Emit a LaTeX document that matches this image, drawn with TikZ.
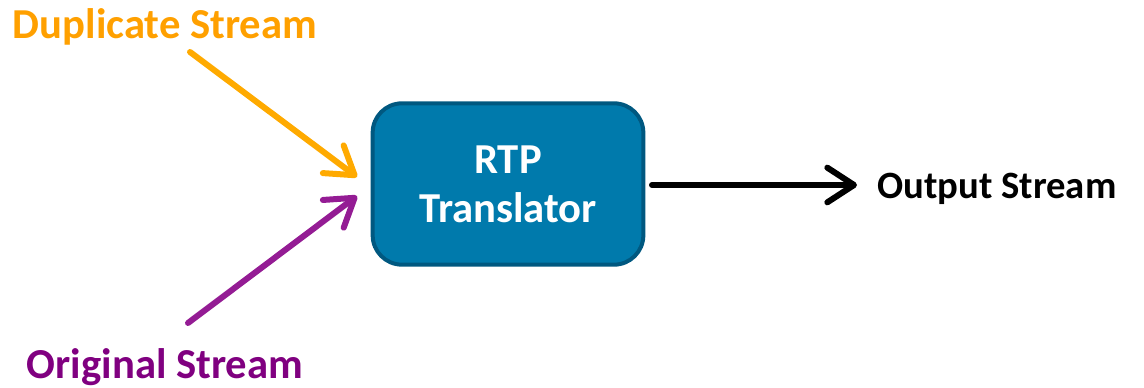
\documentclass[tikz,border=0pt]{standalone}
\usepackage{fontspec}
\setmainfont{Carlito}
\usetikzlibrary{arrows.meta}

\definecolor{boxfill}{RGB}{0,122,172}
\definecolor{boxline}{RGB}{0,88,128}
\definecolor{dupcolor}{RGB}{255,160,0}
\definecolor{dupline}{RGB}{255,170,0}
\definecolor{origcolor}{RGB}{128,0,128}
\definecolor{origline}{RGB}{148,28,148}

\tikzset{
  every picture/.style={line width=0.75pt},
  streamarrow/.style={line width=4.5pt, line cap=round, -{Straight Barb[length=20pt,width=26pt,round]}},
  streamlabel/.style={inner sep=0.75pt, font=\fontsize{32}{36}\selectfont\bfseries},
  translatorbox/.style={draw=boxline, line width=3pt, fill=boxfill, rounded corners=22pt, minimum width=203pt, minimum height=121pt, align=center, text=white, font=\fontsize{32}{37}\selectfont\bfseries}
}

\begin{document}
\begin{tikzpicture}[x=0.75pt,y=0.75pt,yscale=-1,xscale=1]
\useasboundingbox (0,0) rectangle (1144,388);

%Shape: Rounded Rect [id:translator]
\node [translatorbox] (translator) at (508,184) {RTP\\Translator};

% Text Node
\node [streamlabel, text=dupcolor] (duplicate) at (165,27) {Duplicate Stream};
% Text Node
\node [streamlabel, text=origcolor] (original) at (165,367) {Original Stream};
% Text Node
\node [streamlabel, anchor=west, font=\fontsize{29}{34}\selectfont\bfseries] (output) at (876,189) {Output Stream};

\coordinate (dupstart) at (190,52);
\coordinate (dupend) at (357,177);
\coordinate (origstart) at (188,323);
\coordinate (origend) at (357,196);

%Straight Lines [id:dupline]
\draw [streamarrow, color=dupline] (dupstart) -- (dupend);
%Straight Lines [id:origline]
\draw [streamarrow, color=origline] (origstart) -- (origend);
%Straight Lines [id:outline]
\draw [streamarrow, color=black] ([xshift=5pt]translator.east |- 0,185) -- (857,185);

\end{tikzpicture}
\end{document}
